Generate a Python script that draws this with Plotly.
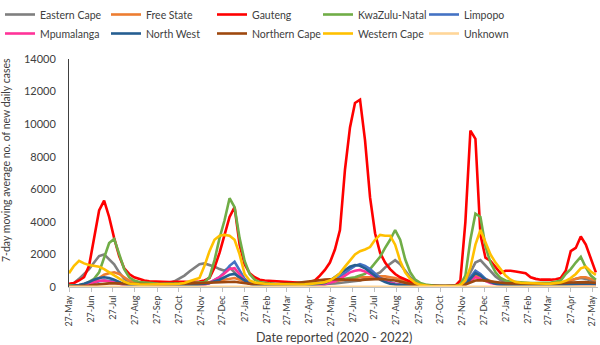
import pandas as pd
import plotly.graph_objects as go

# weekly points starting 27 May 2020
dates = pd.date_range("2020-05-27", periods=106, freq="7D")

eastern_cape = [150, 250, 500, 800, 1100, 1500, 1900, 2000, 1700, 1400,
                900, 500, 280, 200, 170, 150, 150, 150, 160, 200,
                250, 350, 500, 700, 950, 1200, 1400, 1450, 1350, 1250,
                1100, 1000, 1200, 900, 500, 300, 200, 160, 150, 140,
                130, 120, 110, 100, 100, 100, 100, 110, 120, 140,
                160, 180, 200, 220, 250, 280, 300, 330, 400, 500,
                600, 750, 900, 1200, 1450, 1650, 1400, 1000, 600, 350,
                200, 120, 90, 80, 70, 60, 60, 70, 100, 300,
                900, 1500, 1650, 1300, 1000, 650, 430, 300, 250, 220,
                200, 200, 200, 200, 200, 210, 220, 240, 260, 300,
                400, 500, 550, 500, 400, 300]

free_state = [50, 60, 80, 120, 200, 350, 550, 750, 850, 900,
              800, 600, 400, 300, 250, 220, 200, 200, 180, 160,
              150, 150, 150, 150, 160, 170, 200, 250, 300, 350,
              400, 450, 500, 550, 450, 300, 200, 150, 120, 100,
              100, 100, 100, 100, 100, 100, 110, 120, 140, 160,
              200, 250, 300, 350, 400, 450, 500, 550, 600, 600,
              600, 600, 650, 650, 600, 550, 450, 350, 250, 150,
              100, 70, 50, 40, 40, 40, 40, 50, 80, 200,
              500, 700, 650, 500, 350, 250, 200, 170, 150, 140,
              130, 130, 130, 130, 130, 140, 150, 170, 200, 300,
              400, 500, 600, 600, 500, 400]

gauteng = [200, 250, 400, 600, 1300, 2900, 4700, 5300, 4300, 3000,
           1900, 1150, 800, 600, 500, 400, 350, 330, 320, 300,
           300, 320, 330, 320, 300, 300, 330, 400, 550, 1200,
           2100, 3200, 4300, 4900, 2600, 1400, 850, 600, 450, 400,
           380, 350, 330, 300, 300, 280, 260, 250, 300, 400,
           700, 1050, 1500, 2300, 3500, 7200, 9800, 11300, 11500, 9000,
           5500, 3300, 2100, 1500, 1100, 800, 600, 450, 300, 200,
           130, 100, 90, 80, 70, 60, 60, 80, 400, 4000,
           9600, 9100, 3200, 1800, 1600, 1200, 850, 1000, 1000, 950,
           900, 850, 600, 500, 450, 430, 450, 480, 550, 1000,
           2200, 2400, 3100, 2600, 1700, 900]

kwazulu_natal = [100, 100, 120, 150, 300, 500, 900, 1800, 2700, 2950,
                 2000, 1100, 600, 400, 300, 260, 240, 220, 200, 200,
                 200, 210, 220, 230, 240, 260, 280, 300, 600, 1650,
                 3000, 4100, 5450, 4900, 3000, 1600, 800, 450, 300, 250,
                 220, 200, 180, 170, 160, 150, 150, 160, 180, 220,
                 260, 300, 350, 400, 450, 500, 550, 600, 700, 800,
                 1100, 1500, 1850, 2400, 2900, 3500, 2900, 1700, 900, 450,
                 250, 150, 100, 80, 70, 60, 60, 80, 150, 700,
                 2900, 4500, 4300, 2500, 1500, 900, 550, 400, 330, 300,
                 280, 260, 250, 250, 250, 260, 280, 320, 400, 800,
                 1100, 1500, 1850, 1200, 700, 450]

limpopo = [30, 40, 60, 100, 150, 250, 350, 400, 380, 300,
           200, 130, 90, 70, 60, 50, 50, 50, 50, 50,
           50, 50, 60, 70, 80, 90, 100, 150, 250, 400,
           600, 900, 1300, 1550, 1000, 500, 250, 150, 120, 100,
           90, 80, 70, 60, 60, 60, 60, 60, 70, 80,
           100, 150, 250, 400, 600, 850, 1100, 1300, 1400, 1300,
           1100, 800, 550, 400, 300, 200, 150, 120, 100, 80,
           60, 40, 30, 30, 30, 30, 30, 40, 60, 200,
           600, 1000, 800, 500, 300, 200, 150, 130, 120, 110,
           100, 100, 100, 100, 100, 100, 100, 110, 120, 140,
           160, 180, 200, 200, 180, 150]

mpumalanga = [20, 30, 50, 100, 200, 300, 380, 400, 350, 280,
              200, 130, 90, 70, 60, 50, 50, 50, 50, 50,
              50, 50, 60, 70, 80, 100, 120, 150, 250, 400,
              600, 850, 1100, 1150, 800, 400, 200, 130, 100, 80,
              70, 60, 60, 60, 60, 60, 60, 70, 80, 100,
              130, 180, 250, 350, 500, 700, 900, 1000, 1050, 950,
              800, 600, 450, 350, 250, 180, 130, 100, 80, 60,
              40, 30, 30, 30, 30, 30, 30, 40, 60, 150,
              400, 600, 500, 350, 250, 180, 130, 110, 100, 100,
              90, 90, 90, 90, 90, 90, 90, 100, 110, 120,
              150, 170, 180, 170, 150, 120]

north_west = [50, 80, 120, 200, 300, 450, 550, 600, 550, 450,
              300, 180, 120, 100, 90, 80, 80, 80, 80, 80,
              80, 80, 90, 100, 110, 120, 150, 200, 250, 350,
              450, 600, 750, 800, 600, 350, 200, 130, 110, 100,
              100, 100, 100, 100, 100, 100, 110, 120, 130, 150,
              180, 250, 400, 600, 850, 1050, 1250, 1350, 1300, 1150,
              900, 650, 450, 300, 200, 150, 120, 100, 90, 80,
              60, 50, 40, 30, 30, 30, 30, 40, 60, 150,
              500, 850, 700, 450, 300, 200, 150, 130, 120, 110,
              100, 100, 100, 100, 100, 100, 100, 110, 120, 140,
              160, 180, 200, 200, 180, 150]

northern_cape = [20, 30, 40, 60, 90, 130, 170, 200, 220, 230,
                 220, 200, 180, 160, 150, 140, 140, 140, 150, 160,
                 170, 180, 180, 190, 200, 210, 220, 240, 260, 280,
                 290, 300, 310, 320, 280, 230, 200, 180, 170, 170,
                 170, 180, 190, 200, 220, 250, 280, 320, 360, 400,
                 430, 450, 470, 480, 470, 450, 430, 420, 420, 450,
                 480, 500, 500, 480, 450, 400, 330, 250, 180, 120,
                 80, 60, 50, 40, 40, 40, 40, 50, 80, 150,
                 300, 400, 420, 380, 320, 280, 250, 230, 220, 210,
                 200, 190, 180, 180, 180, 180, 190, 200, 220, 250,
                 280, 300, 320, 300, 280, 250]

western_cape = [850, 1300, 1600, 1450, 1350, 1300, 1250, 1100, 900, 700,
                500, 330, 220, 180, 160, 150, 150, 150, 150, 160,
                170, 180, 200, 250, 350, 450, 550, 1300, 2200, 2900,
                3150, 3200, 3150, 2900, 2000, 800, 400, 280, 220, 200,
                180, 170, 160, 150, 150, 150, 150, 160, 180, 200,
                250, 300, 400, 600, 850, 1250, 1650, 2000, 2200, 2300,
                2450, 2900, 3200, 3150, 3150, 2600, 1600, 900, 500, 250,
                130, 80, 60, 50, 50, 50, 50, 60, 100, 400,
                1200, 2600, 3500, 2800, 2000, 1500, 1100, 700, 450, 300,
                260, 240, 220, 210, 200, 200, 210, 230, 280, 380,
                550, 800, 1150, 1250, 950, 750]

unknown = [10, 10, 15, 15, 20, 25, 30, 30, 25, 20,
           15, 15, 10, 10, 10, 10, 10, 10, 10, 10,
           10, 10, 10, 15, 15, 20, 20, 25, 30, 35,
           40, 45, 50, 50, 40, 30, 20, 15, 10, 10,
           10, 10, 10, 10, 10, 10, 10, 10, 10, 15,
           15, 20, 25, 30, 35, 40, 45, 50, 50, 45,
           40, 35, 30, 25, 20, 15, 15, 10, 10, 10,
           5, 5, 5, 5, 5, 5, 5, 5, 10, 20,
           40, 50, 45, 35, 25, 20, 15, 15, 10, 10,
           10, 10, 10, 10, 10, 10, 10, 10, 10, 15,
           20, 25, 30, 30, 25, 20]

series_names = ["Eastern Cape", "Free State", "Gauteng", "KwaZulu-Natal", "Limpopo",
                "Mpumalanga", "North West", "Northern Cape", "Western Cape", "Unknown"]
series_values = [eastern_cape, free_state, gauteng, kwazulu_natal, limpopo,
                 mpumalanga, north_west, northern_cape, western_cape, unknown]
series_colors = ["#7F7F7F", "#ED7D31", "#FF0000", "#70AD47", "#4472C4",
                 "#FF3399", "#255E91", "#9E480E", "#FFC000", "#FFD699"]

tick_dates = ["2020-05-27", "2020-06-27", "2020-07-27", "2020-08-27", "2020-09-27",
              "2020-10-27", "2020-11-27", "2020-12-27", "2021-01-27", "2021-02-27",
              "2021-03-27", "2021-04-27", "2021-05-27", "2021-06-27", "2021-07-27",
              "2021-08-27", "2021-09-27", "2021-10-27", "2021-11-27", "2021-12-27",
              "2022-01-27", "2022-02-27", "2022-03-27", "2022-04-27", "2022-05-27"]
tick_labels = ["27-May", "27-Jun", "27-Jul", "27-Aug", "27-Sep", "27-Oct", "27-Nov",
               "27-Dec", "27-Jan", "27-Feb", "27-Mar", "27-Apr", "27-May", "27-Jun",
               "27-Jul", "27-Aug", "27-Sep", "27-Oct", "27-Nov", "27-Dec", "27-Jan",
               "27-Feb", "27-Mar", "27-Apr", "27-May"]

y_ticks = [0, 2000, 4000, 6000, 8000, 10000, 12000, 14000]
y_tick_labels = ["0", "2000", "4000", "6000", "8000", "10000", "12000", "14000"]

FONT = "Lato"

fig = go.Figure()
for name, vals, col in zip(series_names, series_values, series_colors):
    fig.add_trace(go.Scatter(x=dates, y=vals, name=name, mode="lines",
                             line=dict(color=col, width=2.6)))

fig.update_layout(
    width=600, height=345,
    margin=dict(l=69, r=2, t=59, b=58),
    paper_bgcolor="white", plot_bgcolor="white",
    font=dict(family=FONT, color="#404040"),
    showlegend=True,
    legend=dict(orientation="h", x=0, y=1, xanchor="left", yanchor="top",
                xref="container", yref="container",
                entrywidth=61, entrywidthmode="pixels",
                font=dict(size=10.5, color="#404040", family=FONT),
                itemwidth=30, tracegroupgap=0, bgcolor="rgba(0,0,0,0)"),
    xaxis=dict(type="date", range=["2020-05-27", "2022-06-04"],
               tickmode="array", tickvals=tick_dates, ticktext=tick_labels,
               tickangle=-90, tickfont=dict(size=9, color="#404040"),
               ticks="outside", ticklen=4, tickcolor="#BFBFBF",
               showline=True, linecolor="#BFBFBF", linewidth=1,
               showgrid=False, zeroline=False),
    yaxis=dict(range=[0, 14000], tickmode="array", tickvals=y_ticks,
               ticktext=y_tick_labels,
               tickfont=dict(size=11, color="#404040"),
               showline=True, linecolor="#404040", linewidth=1,
               showgrid=False, zeroline=False, ticks="",
               ticklabelstandoff=10),
    annotations=[dict(text="7-day moving average no. of new daily cases",
                      xref="paper", yref="paper", x=-63 / 529, y=(287 - 160) / 228,
                      xanchor="center", yanchor="middle", textangle=-90,
                      showarrow=False, font=dict(size=10.5, color="#404040")),
                 dict(text="Date reported (2020 - 2022)",
                      xref="paper", yref="paper", x=0.5, y=(287 - 337) / 228,
                      xanchor="center", yanchor="middle",
                      showarrow=False, font=dict(size=12.5, color="#404040"))],
)

fig.write_html("out.html")
